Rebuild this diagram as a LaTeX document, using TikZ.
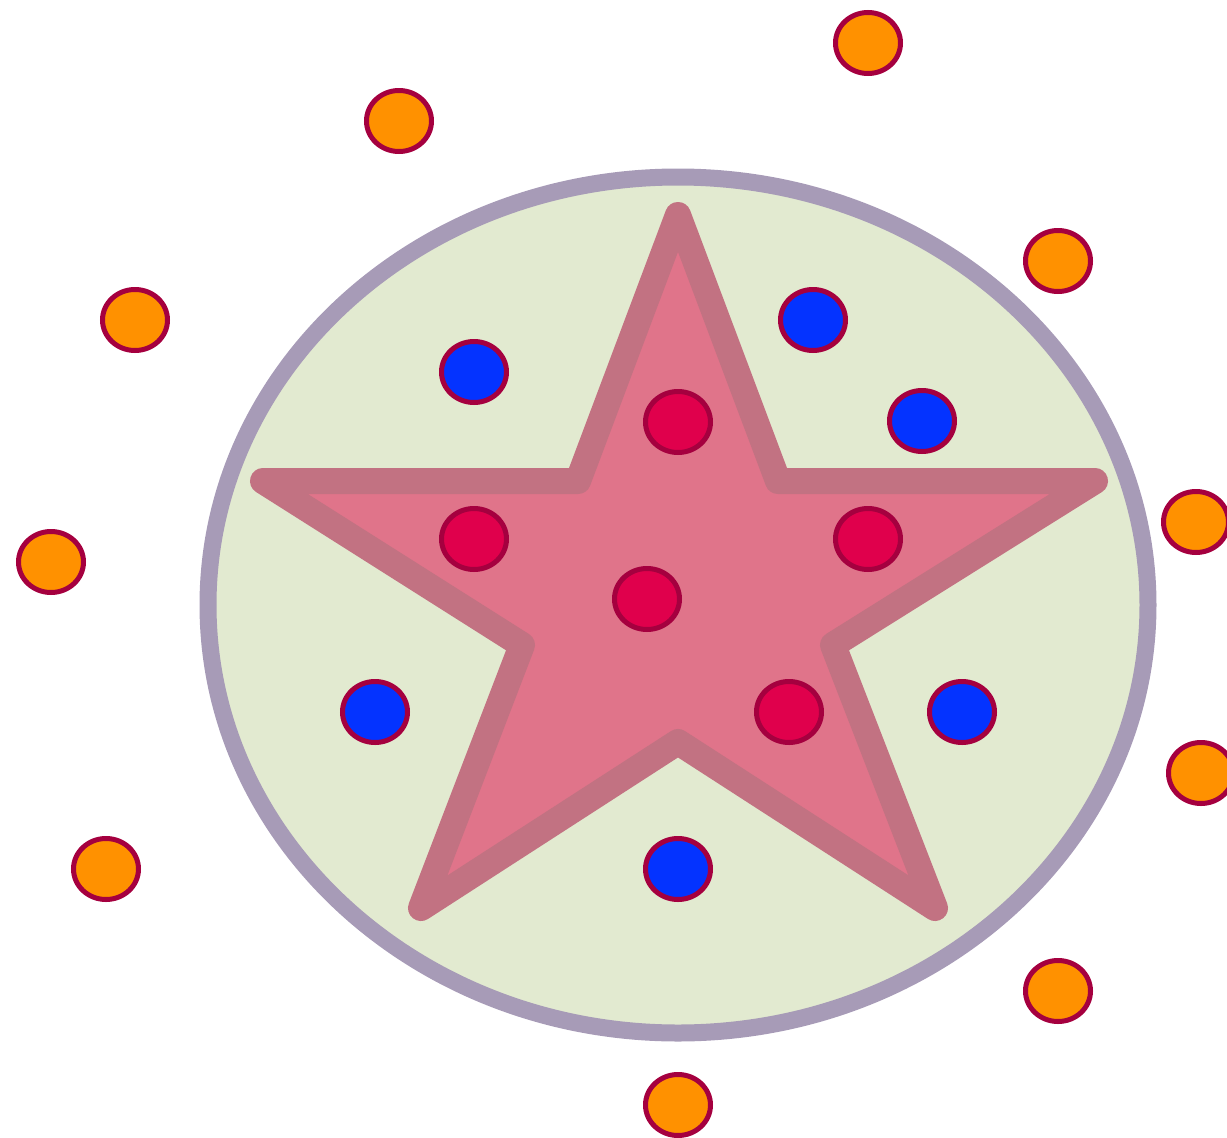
\documentclass[tikz,border=0pt]{standalone}
\definecolor{ellfill}{HTML}{E2EAD0}
\definecolor{elldraw}{HTML}{A79BB7}
\definecolor{starfill}{HTML}{E0748A}
\definecolor{stardraw}{HTML}{C27282}
\definecolor{dotborder}{HTML}{A5003F}
\definecolor{orangefill}{HTML}{FF9100}
\definecolor{redfill}{HTML}{E0004C}
\definecolor{bluefill}{HTML}{0433FF}
\tikzset{
  dotbase/.style={draw=dotborder, line width=5pt, shape=ellipse, minimum width=65pt, minimum height=61pt, inner sep=0pt},
  odot/.style={dotbase, fill=orangefill},
  rdot/.style={dotbase, fill=redfill},
  bdot/.style={dotbase, fill=bluefill},
}
\usetikzlibrary{shapes.geometric}
\begin{document}
\begin{tikzpicture}[x=1pt,y=-1pt]
\useasboundingbox (0,0) rectangle (1227,1138);
\draw[fill=ellfill, draw=elldraw, line width=17pt] (678,605) ellipse [x radius=470, y radius=428];
\draw[fill=starfill, draw=stardraw, line width=26pt, line join=round]
  (678,215) -- (778,481) -- (1095,481) -- (833,645) -- (935,908) -- (678,742)
  -- (421,908) -- (522,645) -- (263,481) -- (578,481) -- cycle;
% orange dots
\node[odot] (o1) at (868,43) {};
\node[odot] (o2) at (399,121) {};
\node[odot] (o3) at (135,320) {};
\node[odot] (o4) at (51,562) {};
\node[odot] (o5) at (106,869) {};
\node[odot] (o6) at (678,1105) {};
\node[odot] (o7) at (1058,991) {};
\node[odot] (o8) at (1201,773) {};
\node[odot] (o9) at (1196,522) {};
\node[odot] (o10) at (1058,261) {};
% blue dots
\node[bdot] (b1) at (474,372) {};
\node[bdot] (b2) at (813,320) {};
\node[bdot] (b3) at (922,421) {};
\node[bdot] (b4) at (375,712) {};
\node[bdot] (b5) at (962,712) {};
\node[bdot] (b6) at (678,869) {};
% red dots
\node[rdot] (r1) at (678,422) {};
\node[rdot] (r2) at (474,539) {};
\node[rdot] (r3) at (868,539) {};
\node[rdot] (r4) at (647,599) {};
\node[rdot] (r5) at (789,712) {};
\end{tikzpicture}
\end{document}
